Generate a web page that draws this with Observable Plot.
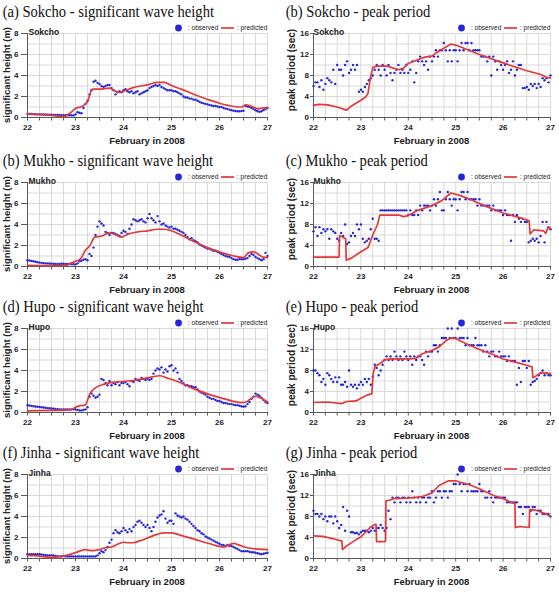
<!DOCTYPE html>
<html><head><meta charset="utf-8">
<script src="https://cdn.jsdelivr.net/npm/d3@7"></script>
<script src="https://cdn.jsdelivr.net/npm/@observablehq/plot@0.6"></script>
<style>
body{margin:0;background:#fff;}
#root{position:relative;width:559px;height:594px;overflow:hidden;background:#fff;}
#root svg{position:absolute;}
</style></head><body><div id="root"></div>
<script>
// ---------- DATA ----------
const dayTicks = [22, 23, 24, 25, 26, 27];
const xLabel = "February in 2008";
const yLabelHs = "significant height (m)";
const yLabelTp = "peak period (sec)";
const legendObserved = ": observed";
const legendPredicted = ": predicted";

// observed, hourly from Feb 22 00h to Feb 27 00h (121 values)
const obsHsSokcho = [0.35,0.34,0.33,0.32,0.31,0.3,0.3,0.29,0.28,0.28,0.27,0.27,0.26,0.25,0.25,0.24,0.24,0.23,0.23,0.22,0.22,0.22,0.21,0.2,
0.3,0.5,0.45,0.4,0.9,1.3,1.6,2.2,2.6,3.4,3.5,3.3,3.2,3.0,2.9,3.0,3.1,3.1,2.8,2.6,2.2,2.4,2.5,2.4,
2.6,2.7,2.5,2.4,2.5,2.3,2.4,2.5,2.2,2.3,2.4,2.5,2.6,2.8,2.9,3.0,3.1,3.0,3.1,2.9,2.8,2.7,2.6,2.6,
2.6,2.5,2.5,2.4,2.3,2.2,2.0,1.9,1.9,1.8,1.8,1.7,1.7,1.6,1.5,1.4,1.35,1.3,1.25,1.2,1.15,1.1,1.1,1.05,
1.0,1.0,0.9,0.85,0.8,0.75,0.7,0.65,0.62,0.6,0.6,0.62,0.65,1.1,1.05,1.0,0.9,0.8,0.7,0.6,0.55,0.6,0.7,0.8,0.9];
const obsHsMukho = [0.6,0.57,0.53,0.5,0.45,0.4,0.37,0.35,0.32,0.3,0.3,0.28,0.27,0.26,0.25,0.25,0.25,0.26,0.26,0.25,0.25,0.24,0.23,0.22,
0.2,0.3,0.5,0.55,0.65,0.7,0.6,1.2,1.0,1.8,3.0,3.8,4.3,4.1,3.9,3.3,3.2,3.0,3.2,3.2,3.1,3.0,2.9,3.2,
3.4,3.3,3.1,3.6,4.0,4.5,4.4,4.3,4.4,4.5,4.3,4.2,4.6,5.0,4.6,4.4,4.2,4.8,4.3,4.0,4.1,3.9,3.8,3.7,
3.8,3.6,3.6,3.5,3.4,3.3,3.2,3.0,2.8,2.6,2.7,2.5,2.4,2.3,2.1,2.0,1.9,1.8,1.7,1.7,1.6,1.5,1.5,1.4,
1.3,1.2,1.1,1.0,0.95,0.9,0.8,0.7,0.65,0.65,0.7,0.7,0.7,0.75,0.8,1.0,1.2,1.1,0.9,0.8,0.7,0.6,0.7,1.3,1.0];
const obsHsHupo = [0.7,0.67,0.63,0.6,0.57,0.55,0.52,0.5,0.47,0.45,0.42,0.4,0.38,0.36,0.34,0.32,0.3,0.3,0.3,0.3,0.3,0.3,0.3,0.3,
0.3,0.25,0.2,0.2,0.25,0.3,0.5,1.5,1.8,1.6,1.4,1.5,1.7,3.2,3.1,2.8,2.6,3.0,2.6,2.8,2.7,2.9,2.6,2.8,
2.8,2.9,2.7,2.5,3.0,2.9,3.2,3.1,3.0,3.3,3.2,3.1,3.2,3.1,3.2,3.7,4.0,4.2,4.1,4.3,3.8,4.1,3.9,4.4,
4.5,4.0,4.2,3.8,3.2,3.0,2.8,2.6,2.6,2.5,2.5,2.4,2.4,2.2,2.0,1.9,1.8,1.7,1.5,1.4,1.3,1.3,1.2,1.1,
1.1,1.0,0.9,0.9,0.85,0.8,0.8,0.75,0.7,0.7,0.65,0.6,0.55,0.6,0.8,1.0,1.3,1.5,1.8,1.7,1.6,1.4,1.2,1.0,0.9];
const obsHsJinha = [0.4,0.4,0.4,0.4,0.4,0.4,0.4,0.38,0.35,0.33,0.3,0.3,0.3,0.28,0.25,0.22,0.2,0.22,0.25,0.22,0.2,0.2,0.2,0.2,
0.2,0.2,0.2,0.2,0.2,0.2,0.2,0.2,0.2,0.2,0.2,0.3,0.5,0.7,0.6,0.8,1.1,1.5,1.8,2.4,2.7,2.5,2.4,2.6,
2.9,2.7,2.5,2.8,2.6,3.0,3.2,3.5,3.6,3.4,3.2,3.0,3.2,2.9,2.6,3.0,3.5,3.9,4.1,4.2,4.5,3.8,3.4,3.6,
3.6,3.3,4.3,4.1,4.0,3.9,4.0,3.8,3.7,3.5,3.3,3.1,2.9,2.7,2.6,2.4,2.3,2.1,2.0,1.9,1.8,1.7,1.6,1.5,
1.4,1.3,1.3,1.2,1.3,1.2,1.2,1.1,1.0,0.9,0.8,0.7,0.7,0.7,0.7,0.65,0.6,0.6,0.55,0.5,0.45,0.4,0.45,0.5,0.55];

const obsTpSokcho = [6.0,6.7,6.7,5.8,7.1,5.3,6.4,7.5,7.1,6.7,9.1,6.4,10.0,9.1,9.1,8.0,10.0,10.7,8.5,9.1,10.0,9.1,10.0,4.9,
5.3,4.9,5.8,6.4,7.1,7.5,8.0,9.1,10.0,9.1,8.0,10.0,9.1,8.0,10.0,8.5,7.1,8.5,9.1,10.0,8.5,9.1,8.5,10.0,
8.5,9.1,10.7,6.7,8.5,10.7,11.6,10.7,10.0,10.7,9.1,11.6,10.7,11.6,12.8,11.6,12.8,12.8,14.2,12.8,10.7,12.8,10.7,12.8,
12.8,10.7,12.8,14.2,12.8,14.2,14.2,12.8,14.2,12.8,12.8,12.8,12.8,11.6,11.6,11.6,10.7,11.6,8.0,11.6,10.7,9.1,10.7,10.0,
9.1,10.0,10.7,8.5,9.1,10.7,8.0,9.1,10.0,10.0,5.6,5.6,5.8,5.3,6.4,6.0,6.4,5.6,6.4,5.8,7.5,7.1,7.5,6.7,8.0];
const obsTpMukho = [6.7,7.5,5.8,7.5,6.4,7.1,6.7,7.1,5.3,7.1,6.7,6.4,5.3,4.9,6.4,5.8,8.0,4.3,4.6,5.8,6.4,5.8,8.0,7.1,
8.0,5.3,4.6,4.9,5.3,7.1,9.1,5.3,5.3,4.9,10.7,10.7,10.7,10.7,10.7,10.7,10.7,10.7,10.7,10.7,10.7,10.7,10.7,10.7,
9.8,10.7,9.8,9.8,10.7,9.8,11.6,10.7,11.6,11.6,11.6,10.7,11.6,12.8,11.6,12.8,14.2,10.7,10.7,12.8,14.2,12.8,11.6,12.8,
12.8,10.7,12.8,14.2,14.2,12.8,14.2,12.8,12.8,12.8,12.8,11.6,12.8,11.6,11.6,11.6,11.6,11.6,10.7,11.6,10.7,10.7,10.7,10.7,
9.8,10.7,9.8,9.8,4.9,9.8,8.5,9.8,9.1,8.5,9.1,8.5,8.5,4.6,4.9,5.3,4.9,5.3,4.6,5.8,8.5,4.6,8.5,7.5,7.1];
const obsTpHupo = [8.0,8.0,7.5,7.1,5.8,6.4,5.3,7.5,7.1,6.4,5.8,6.7,5.8,6.7,5.3,5.3,5.8,4.9,8.0,5.3,4.9,5.3,4.6,5.3,
5.8,5.3,6.4,5.8,6.4,5.3,6.8,9.1,8.5,7.1,8.0,9.1,10.0,10.7,10.0,10.7,10.0,11.6,10.7,10.0,10.7,10.0,11.6,10.7,
10.0,10.7,9.1,10.7,10.0,10.7,10.7,10.0,9.1,11.6,10.7,11.6,11.6,12.8,12.8,11.6,12.8,14.2,14.2,14.2,16.0,14.2,16.0,14.2,
14.2,16.0,14.2,14.2,14.2,12.8,14.2,12.8,12.8,12.8,14.2,12.8,12.8,12.8,11.6,12.8,11.6,10.7,11.6,11.6,10.7,10.7,11.6,10.7,
10.7,10.7,9.8,10.7,9.8,9.8,9.8,5.3,8.5,5.8,9.8,9.8,8.5,9.8,5.3,5.8,6.0,6.4,7.1,7.5,8.0,7.1,7.5,7.1,7.1];
const obsTpJinha = [9.1,8.5,8.5,8.0,8.5,7.5,8.0,7.1,8.0,8.0,6.7,8.0,7.1,5.8,6.4,9.8,5.3,9.1,8.0,5.0,5.0,4.8,4.9,4.6,
5.0,5.3,5.3,5.3,5.0,5.3,5.8,5.3,5.8,5.8,6.4,5.8,5.3,5.8,9.1,7.5,11.6,10.7,11.6,11.6,10.7,11.6,11.6,10.7,
11.6,10.7,12.8,11.6,10.7,11.6,10.7,11.6,11.6,10.7,11.6,11.6,12.8,10.7,11.6,12.8,12.8,11.6,12.8,12.8,11.6,12.8,12.8,14.2,
14.2,16.0,14.2,12.8,14.2,14.2,12.8,14.2,12.8,12.8,12.8,12.8,14.2,12.8,12.8,11.6,11.6,12.8,11.6,10.7,11.6,11.6,11.6,11.6,
11.6,11.6,10.7,10.7,10.7,10.7,10.7,10.7,9.8,9.8,8.5,9.8,9.8,9.8,9.1,9.8,9.8,8.5,9.1,9.1,8.5,8.5,8.5,8.5,8.0];

// predicted (day of February, value)
const predHsSokchoT = [22.0,22.25,22.5,22.75,22.85,23.0,23.15,23.25,23.35,23.5,23.7,23.9,24.0,24.2,24.5,24.7,24.85,25.0,25.2,25.5,25.8,26.0,26.3,26.45,26.55,26.65,26.8,26.9,27.0];
const predHsSokchoV = [0.35,0.3,0.2,0.08,0.3,0.85,1.1,1.5,2.7,2.7,2.8,2.4,2.5,2.85,3.1,3.35,3.35,3.05,2.7,2.15,1.65,1.36,1.05,1.0,1.2,1.1,0.82,0.9,0.95];
const predTpSokchoT = [22.0,22.1,22.3,22.5,22.7,22.8,23.0,23.1,23.15,23.2,23.25,23.35,23.55,23.65,23.8,23.9,24.0,24.2,24.35,24.5,24.6,24.75,24.9,25.0,25.5,26.0,26.5,26.8,26.9,27.0];
const predTpSokchoV = [2.3,2.5,2.4,2.0,1.4,2.2,3.3,3.9,4.6,7.5,9.5,9.8,9.8,9.5,9.1,9.4,10.3,11.0,11.5,11.7,12.4,13.2,14.0,13.8,12.0,10.4,8.9,8.2,7.7,7.5];
const predHsMukhoT = [22.0,22.5,22.8,22.9,23.0,23.1,23.2,23.3,23.4,23.55,23.7,23.85,23.95,24.1,24.3,24.5,24.7,24.85,25.0,25.2,25.5,25.8,26.0,26.3,26.5,26.6,26.7,26.8,26.9,27.0];
const predHsMukhoV = [0.12,0.08,0.1,0.3,0.5,0.7,1.5,2.0,2.8,2.9,3.2,3.0,2.8,3.1,3.3,3.4,3.55,3.55,3.4,3.0,2.3,1.7,1.4,1.0,0.85,1.3,1.4,1.2,0.9,0.85];
const predTpMukhoT = [22.0,22.54,22.55,22.68,22.69,22.8,23.0,23.15,23.25,23.35,23.4,23.8,23.9,24.0,24.2,24.5,24.7,24.9,25.1,25.3,25.6,26.0,26.35,26.55,26.57,26.65,26.85,26.9,26.95,27.0];
const predTpMukhoV = [1.8,1.8,5.9,5.3,1.2,1.6,2.8,3.6,6.0,8.0,9.8,9.8,9.5,9.7,10.7,11.6,12.5,14.0,13.5,12.8,11.6,10.2,9.3,8.7,6.2,7.0,6.8,6.3,7.5,7.2];
const predHsHupoT = [22.0,22.5,22.9,23.0,23.1,23.2,23.3,23.4,23.6,23.8,24.0,24.2,24.4,24.6,24.75,24.9,25.1,25.3,25.5,25.8,26.1,26.3,26.45,26.55,26.65,26.75,26.85,27.0];
const predHsHupoV = [0.15,0.2,0.25,0.5,0.65,0.7,1.8,2.3,2.7,2.9,2.95,3.05,3.2,3.4,3.5,3.3,3.0,2.6,2.2,1.7,1.3,1.05,0.95,1.0,1.3,1.55,1.4,1.0];
const predTpHupoT = [22.0,22.3,22.6,22.7,22.9,23.0,23.1,23.2,23.23,23.26,23.3,23.4,23.5,23.6,24.0,24.15,24.3,24.5,24.65,24.8,24.9,25.0,25.2,25.5,25.8,26.0,26.3,26.5,26.61,26.63,26.7,26.8,27.0];
const predTpHupoV = [1.9,2.0,1.7,2.1,2.2,2.7,3.2,3.5,3.6,7.5,8.8,9.3,10.0,10.2,10.2,10.3,11.2,11.8,12.5,13.7,14.2,14.1,13.2,12.0,11.0,10.2,9.5,9.0,8.7,6.6,7.0,7.6,7.4];
const predHsJinhaT = [22.0,22.2,22.5,22.7,22.85,23.0,23.2,23.35,23.5,23.6,23.75,23.9,24.0,24.1,24.2,24.35,24.5,24.7,24.85,25.0,25.2,25.5,25.8,26.0,26.1,26.2,26.3,26.4,26.6,26.8,27.0];
const predHsJinhaV = [0.3,0.25,0.1,0.2,0.35,0.55,0.85,0.75,0.85,1.0,1.1,1.4,1.55,1.5,1.5,1.7,1.95,2.3,2.45,2.45,2.2,1.8,1.4,1.15,1.1,1.3,1.45,1.3,1.0,0.9,0.85];
const predTpJinhaT = [22.0,22.2,22.4,22.6,22.61,22.7,22.9,23.0,23.1,23.2,23.3,23.32,23.33,23.5,23.52,23.53,23.6,23.7,24.0,24.3,24.5,24.65,24.85,25.0,25.3,25.5,25.8,26.0,26.2,26.25,26.26,26.35,26.55,26.56,26.7,26.9,27.0];
const predTpJinhaV = [4.3,4.2,3.8,3.3,1.7,2.4,3.6,4.1,5.0,6.0,6.5,6.5,3.2,3.2,3.3,11.0,11.1,11.4,11.5,11.8,12.5,13.9,14.8,14.8,14.0,13.3,12.0,11.4,10.6,10.5,5.9,6.1,5.9,9.3,9.2,8.5,8.0];

const panels = [
  {letter:"a", station:"Sokcho", kind:"Hs", col:0, row:0, obs:obsHsSokcho, pt:predHsSokchoT, pv:predHsSokchoV},
  {letter:"b", station:"Sokcho", kind:"Tp", col:1, row:0, obs:obsTpSokcho, pt:predTpSokchoT, pv:predTpSokchoV},
  {letter:"b", station:"Mukho",  kind:"Hs", col:0, row:1, obs:obsHsMukho,  pt:predHsMukhoT,  pv:predHsMukhoV},
  {letter:"c", station:"Mukho",  kind:"Tp", col:1, row:1, obs:obsTpMukho,  pt:predTpMukhoT,  pv:predTpMukhoV},
  {letter:"d", station:"Hupo",   kind:"Hs", col:0, row:2, obs:obsHsHupo,   pt:predHsHupoT,   pv:predHsHupoV},
  {letter:"e", station:"Hupo",   kind:"Tp", col:1, row:2, obs:obsTpHupo,   pt:predTpHupoT,   pv:predTpHupoV},
  {letter:"f", station:"Jinha",  kind:"Hs", col:0, row:3, obs:obsHsJinha,  pt:predHsJinhaT,  pv:predHsJinhaV},
  {letter:"g", station:"Jinha",  kind:"Tp", col:1, row:3, obs:obsTpJinha,  pt:predTpJinhaT,  pv:predTpJinhaV}
];

// ---------- LAYOUT ----------
const rowTops = [33, 182, 328, 474];
const MT = 48, PH = 84, MB = 34;
const BLUE = "#2626d4", RED = "#e23a3a", GRID = "#d5d5d5", AXIS = "#5a5a5a";
const SANS = "'Liberation Sans', Arial, sans-serif";
const SERIF = "'Liberation Serif', 'Times New Roman', serif";
const quarters = d3.range(0, 21).map(i => dayTicks[0] + i / 4);
const root = document.getElementById("root");

for (const p of panels) {
  const isHs = p.kind === "Hs";
  const left = p.col ? 279 : 0;
  const width = p.col ? 280 : 279;
  const mL = p.col ? 34 : 27, mR = p.col ? 9 : 12;
  const yMax = isHs ? 8 : 16;
  const gridStep = isHs ? 1 : 2, labStep = isHs ? 2 : 4;
  const obs = p.obs.map((v, i) => ({t: 22 + i / 24, v}));
  const pred = p.pt.map((t, i) => ({t, v: p.pv[i]}));
  const H = MT + PH + MB;

  const svg = Plot.plot({
    width, height: H,
    marginTop: MT, marginBottom: MB, marginLeft: mL, marginRight: mR,
    x: {domain: [22, 27], label: null},
    y: {domain: [0, yMax], label: null},
    style: {background: "transparent", overflow: "visible", fontFamily: SANS, color: "#222"},
    marks: [
      Plot.gridX(quarters, {stroke: GRID, strokeOpacity: 1, strokeWidth: 0.9}),
      Plot.gridY(d3.range(0, yMax + 0.01, gridStep), {stroke: GRID, strokeOpacity: 1, strokeWidth: 0.9}),
      Plot.ruleX([22], {stroke: AXIS, strokeWidth: 1}),
      Plot.ruleY([0], {stroke: AXIS, strokeWidth: 1}),
      Plot.axisX(quarters, {tickSize: 3.5, tickPadding: 3, stroke: AXIS,
        tickFormat: d => Math.abs(d - Math.round(d)) < 1e-9 ? String(Math.round(d)) : "",
        fontSize: 8, fontWeight: "bold", fill: "#222", label: null}),
      Plot.axisY(d3.range(0, yMax + 0.01, labStep), {tickSize: isHs ? 6 : 3, tickPadding: isHs ? 3 : 1.5, stroke: AXIS,
        fontSize: 8, fontWeight: "bold", fill: "#222", label: null}),
      Plot.dot(obs, {x: "t", y: "v", r: 1.2, fill: BLUE, stroke: null}),
      Plot.line(pred, {x: "t", y: "v", stroke: RED, strokeWidth: 1.7, curve: isHs ? "monotone-x" : "linear"}),
      Plot.text([p.station], {frameAnchor: "top-left", dx: p.col ? 0 : 1, dy: -5, textAnchor: "start",
        fontSize: 8.5, fontWeight: "bold", fill: "#222"})
    ]
  });
  svg.style.left = left + "px";
  svg.style.top = (rowTops[p.row] - MT) + "px";
  root.appendChild(svg);

  const s = d3.select(svg);
  // title
  s.append("text")
    .attr("transform", `translate(${p.col ? 6.7 : 2.7},${MT - 16.5}) scale(0.91,1)`)
    .attr("text-anchor", "start")
    .attr("font-family", SERIF).attr("font-size", 16).attr("fill", "#111")
    .text(`(${p.letter}) ${p.station} - ${isHs ? "significant wave height" : "peak period"}`);
  // y label
  const ylx = p.col ? 12.3 : 7;
  const yly = MT + (p.col ? 37 : 42);
  s.append("text")
    .attr("transform", `translate(${ylx},${yly}) rotate(-90)`)
    .attr("text-anchor", "middle").attr("dy", "0.35em")
    .attr("font-family", SANS).attr("font-weight", "bold").attr("font-size", p.col ? 10 : 9.5).attr("fill", "#222")
    .text(isHs ? yLabelHs : yLabelTp);
  // x label
  s.append("text")
    .attr("x", (mL + width - mR) / 2).attr("y", MT + PH + 27)
    .attr("text-anchor", "middle")
    .attr("font-family", SANS).attr("font-weight", "bold").attr("font-size", 9.5).attr("fill", "#222")
    .text(xLabel);
  // legend
  const R = width - mR, ly = MT - 5;
  const g = s.append("g").attr("font-family", SANS).attr("font-size", 6.5).attr("fill", "#222")
    .attr("text-anchor", "start");
  g.append("circle").attr("cx", R - 88.5).attr("cy", ly).attr("r", 3.4).attr("fill", BLUE);
  g.append("text").attr("x", R - 79).attr("y", ly).attr("dy", "0.35em").text(legendObserved);
  g.append("line").attr("x1", R - 46).attr("x2", R - 33).attr("y1", ly).attr("y2", ly)
    .attr("stroke", RED).attr("stroke-width", 1.7);
  g.append("text").attr("x", R - 30).attr("y", ly).attr("dy", "0.35em").text(legendPredicted);
}
</script>
</body></html>
